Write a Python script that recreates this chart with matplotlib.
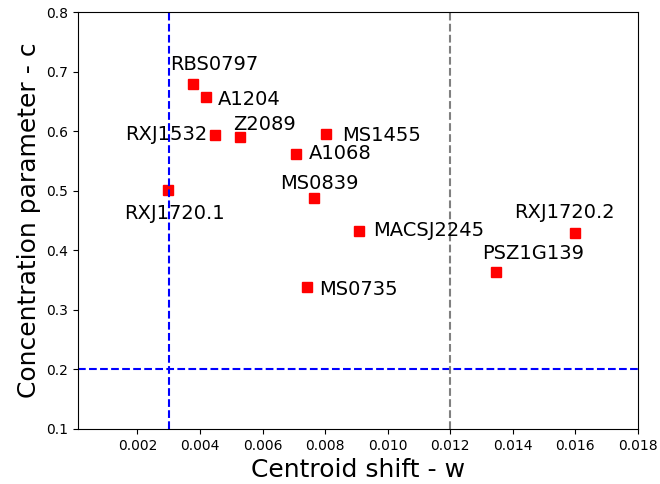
import matplotlib
matplotlib.use("Agg")
import matplotlib.pyplot as plt

names = ["RBS0797", "A1204", "RXJ1532", "Z2089", "MS1455", "A1068", "MS0839",
         "MACSJ2245", "MS0735", "RXJ1720.1", "RXJ1720.2", "PSZ1G139"]
w = [0.00377, 0.00419, 0.00448, 0.00528, 0.00802, 0.00706, 0.00765,
     0.00907, 0.00742, 0.00298, 0.01598, 0.01347]
c = [0.679, 0.657, 0.594, 0.590, 0.595, 0.562, 0.488,
     0.433, 0.339, 0.501, 0.429, 0.364]

# label offsets in pixels (dx, dy, ha)
offs = {
    "RBS0797": (21, 20, "center"),
    "A1204": (12, -2, "left"),
    "RXJ1532": (-8, 0, "right"),
    "Z2089": (24, 13, "center"),
    "MS1455": (16, -1, "left"),
    "A1068": (13, 0, "left"),
    "MS0839": (5, 14, "center"),
    "MACSJ2245": (14, 0, "left"),
    "MS0735": (12, -3, "left"),
    "RXJ1720.1": (6, -23, "center"),
    "RXJ1720.2": (-10, 21, "center"),
    "PSZ1G139": (37, 18, "center"),
}

fig = plt.figure(figsize=(6.6, 4.84), dpi=100)
ax = fig.add_axes([78/660, 1-429/484, (638-78)/660, (429-12)/484])

ax.plot(w, c, "s", color="red", markersize=7, linestyle="none")
for n, x, y in zip(names, w, c):
    dx, dy, ha = offs[n]
    ax.annotate(n, (x, y), xytext=(dx, dy), textcoords="offset pixels",
                ha=ha, va="center", fontsize=14)

ax.axvline(0.003, color="blue", linestyle="--", linewidth=1.5)
ax.axhline(0.2, color="blue", linestyle="--", linewidth=1.5)
ax.axvline(0.012, color="gray", linestyle="--", linewidth=1.5)

ax.set_xlim(0.0001, 0.018)
ax.set_ylim(0.1, 0.8)
ax.set_xticks([0.002, 0.004, 0.006, 0.008, 0.010, 0.012, 0.014, 0.016, 0.018])
ax.set_xlabel("Centroid shift - w", fontsize=18)
ax.set_ylabel("Concentration parameter - c", fontsize=18)

plt.savefig("out.png", dpi=100)
